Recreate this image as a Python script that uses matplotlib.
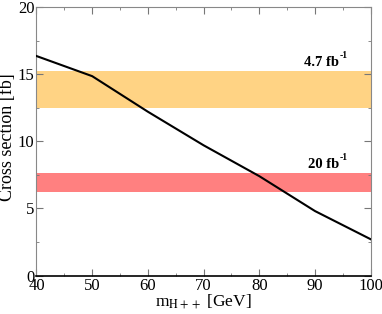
import matplotlib.pyplot as plt
from matplotlib.ticker import MultipleLocator

# cross section vs doubly charged Higgs mass
mass = [40, 50, 60, 70, 80, 90, 100]
xsec = [16.35, 14.85, 12.2, 9.7, 7.4, 4.8, 2.7]

# excluded bands (lower, upper) for each luminosity
band_labels = ['4.7 fb', '20 fb']
band_low = [12.5, 6.25]
band_high = [15.2, 7.6]
band_colors = ['#ffd384', '#ff8080']

plt.rcParams['font.family'] = ['Liberation Serif', 'DejaVu Serif']
plt.rcParams['mathtext.fontset'] = 'stix'

fig = plt.figure(figsize=(3.82, 3.14), dpi=100)
ax = fig.add_axes([0.0955, 0.1226, 0.875, 0.855])

for lo, hi, col, lab in zip(band_low, band_high, band_colors, band_labels):
    ax.axhspan(lo, hi, color=col, lw=0, zorder=1)
    t = ax.text(94.3, hi + 0.2, lab, ha='right', va='bottom', fontsize=10.5,
                fontweight='bold')
    ax.annotate('-1', xy=(1, 1), xycoords=t, xytext=(0.5, -3),
                textcoords='offset points', ha='left', va='bottom',
                fontsize=7, fontweight='bold')

ax.plot(mass, xsec, color='black', lw=1.5, zorder=3)

ax.set_xlim(40, 100)
ax.set_ylim(0, 20)
ax.xaxis.set_major_locator(MultipleLocator(10))
ax.xaxis.set_minor_locator(MultipleLocator(5))
ax.yaxis.set_major_locator(MultipleLocator(5))
ax.yaxis.set_minor_locator(MultipleLocator(2.5))
ax.tick_params(which='both', direction='in', top=True, right=True,
               labelsize=12, pad=1.5, color='#777777')
ax.tick_params(which='major', length=5)
ax.tick_params(which='minor', length=2.5)
for side in ['left', 'top', 'right']:
    ax.spines[side].set_color('#888888')
ax.spines['bottom'].set_color('black')
ax.spines['bottom'].set_linewidth(1.2)

ax.set_xlabel('m$_{\\mathrm{H++}}$ [GeV]', fontsize=12.5, labelpad=-1)
ax.set_ylabel('Cross section [fb]', fontsize=13, labelpad=1)
ax.yaxis.set_label_coords(-0.061, 0.515)

fig.savefig('out.png', dpi=100)
